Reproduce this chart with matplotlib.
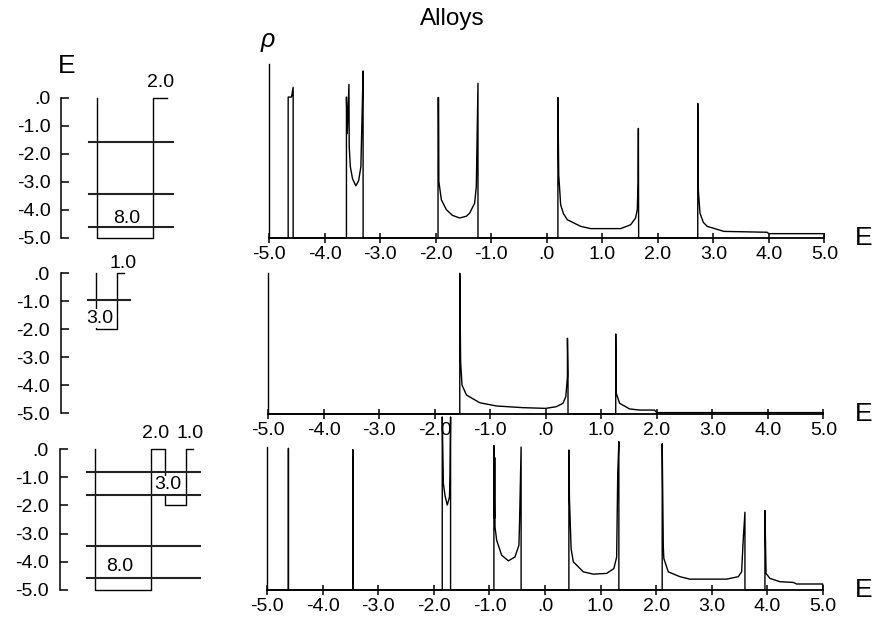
import matplotlib.pyplot as plt

plt.rcParams['font.family'] = ['Liberation Sans', 'DejaVu Sans']

# energy axis of the density-of-states panels
e_ticks = [-5, -4, -3, -2, -1, 0, 1, 2, 3, 4, 5]
e_tick_labels = ["-5.0", "-4.0", "-3.0", "-2.0", "-1.0", ".0",
                 "1.0", "2.0", "3.0", "4.0", "5.0"]
# energy axis of the potential panels
v_ticks = [0, -1, -2, -3, -4, -5]
v_tick_labels = [".0", "-1.0", "-2.0", "-3.0", "-4.0", "-5.0"]

# potential profiles (x in width units, V in energy units)
pot1_x = [0, 0, 8, 8, 10]
pot1_v = [0, -5, -5, 0, 0]
pot2_x = [0, 0, 3, 3, 4]
pot2_v = [0, -2, -2, 0, 0]
pot3_x = [0, 0, 8, 8, 10, 10, 13, 13, 14]
pot3_v = [0, -5, -5, 0, 0, -2, -2, 0, 0]

# bound levels
levels1 = [-1.56, -3.43, -4.60]
levels2 = [-0.97]
levels3 = [-0.82, -1.64, -3.44, -4.59]

# density of states rho(E)
dos1_e = [-5.0, -4.66, -4.66, -4.60, -4.57, -4.57,
          -3.61, -3.61, -3.595, -3.565, -3.56, -3.54, -3.50, -3.44, -3.39, -3.35, -3.33, -3.31, -3.31,
          -1.96, -1.96, -1.95, -1.945, -1.90, -1.81, -1.70, -1.57, -1.45, -1.39, -1.30, -1.27, -1.24, -1.24,
          0.20, 0.20, 0.215, 0.25, 0.30, 0.37, 0.61, 0.79, 1.33, 1.51, 1.60, 1.63, 1.645, 1.65, 1.655,
          2.72, 2.72, 2.73, 2.76, 2.82, 2.89, 3.19, 3.97, 4.0, 5.0, 5.0]
dos1_rho = [0, 0, 0.81, 0.81, 0.866, 0,
            0, 0.81, 0.60, 0.883, 0.526, 0.41, 0.34, 0.30, 0.33, 0.41, 0.68, 0.96, 0,
            0, 0.807, 0.807, 0.325, 0.22, 0.163, 0.13, 0.115, 0.125, 0.143, 0.20, 0.296, 0.889, 0,
            0, 0.807, 0.363, 0.19, 0.14, 0.105, 0.067, 0.054, 0.054, 0.076, 0.115, 0.163, 0.315, 0.63, 0,
            0, 0.774, 0.277, 0.143, 0.09, 0.067, 0.038, 0.033, 0.025, 0.025, 0]

dos2_e = [-5.0, -1.55, -1.55, -1.535, -1.51, -1.43, -1.19, -0.89, -0.41, 0.0, 0.19, 0.31, 0.36, 0.39, 0.39, 0.40, 0.40,
          1.26, 1.26, 1.27, 1.33, 1.51, 1.69, 1.96, 2.0, 5.0, 5.0]
dos2_rho = [0, 0, 1.0, 0.372, 0.206, 0.135, 0.08, 0.057, 0.045, 0.04, 0.052, 0.076, 0.123, 0.265, 0.538, 0.30, 0,
            0, 0.569, 0.147, 0.076, 0.036, 0.028, 0.028, 0.01, 0.01, 0]

dos3_e = [-5.0, -4.62, -4.62, -4.62, -3.46, -3.46, -3.46,
          -1.85, -1.85, -1.83, -1.80, -1.76, -1.72, -1.71, -1.70, -1.70,
          -0.92, -0.92, -0.91, -0.905, -0.90, -0.87, -0.78, -0.66, -0.54, -0.47, -0.46, -0.43, -0.43,
          0.43, 0.43, 0.44, 0.47, 0.51, 0.69, 0.87, 1.11, 1.24, 1.29, 1.31, 1.33, 1.33,
          2.11, 2.11, 2.13, 2.14, 2.22, 2.43, 2.61, 3.27, 3.48, 3.54, 3.57, 3.60, 3.60,
          3.96, 3.96, 3.98, 4.05, 4.23, 4.47, 4.53, 5.0, 5.0]
dos3_rho = [0, 0, 0.99, 0, 0, 0.98, 0,
            0, 1.21, 0.746, 0.66, 0.594, 0.65, 0.79, 1.21, 0,
            0, 1.01, 0.50, 0.926, 0.44, 0.347, 0.243, 0.204, 0.231, 0.3125, 0.44, 1.0, 0,
            0, 0.979, 0.64, 0.289, 0.197, 0.127, 0.111, 0.116, 0.15, 0.23, 0.82, 1.037, 0,
            0, 1.023, 0.30, 0.22, 0.127, 0.093, 0.076, 0.076, 0.093, 0.127, 0.359, 0.544, 0,
            0, 0.556, 0.116, 0.081, 0.058, 0.053, 0.042, 0.042, 0]

W, H = 874, 624
fig = plt.figure(figsize=(W / 100, H / 100), dpi=100)


def px_axes(x0, y_top, w, h):
    return fig.add_axes([x0 / W, (H - y_top - h) / H, w / W, h / H])


def pot_panel(ax, xs, vs, levels, lev_right):
    ax.plot(xs, vs, color='black', lw=1.0, zorder=2, clip_on=False)
    for lv in levels:
        ax.plot([-1.14, lev_right], [lv, lv], color='#222222', lw=1.5, zorder=4)
    ax.set_xlim(-5, 15.5)
    ax.set_ylim(-5, 0)
    for s in ['top', 'right', 'bottom']:
        ax.spines[s].set_visible(False)
    ax.spines['left'].set_linewidth(1.1)
    ax.set_xticks([])
    ax.set_yticks(v_ticks)
    ax.set_yticklabels(v_tick_labels)
    ax.tick_params(axis='y', direction='in', length=5.5, width=1.1, pad=8, labelsize=14)


def dos_panel(ax, es, rhos):
    ax.plot(es, rhos, color='black', lw=1.0, clip_on=False, zorder=3)
    ax.set_xlim(-5, 5)
    ax.set_ylim(0, 1)
    for s in ['top', 'right']:
        ax.spines[s].set_visible(False)
    ax.spines['left'].set_linewidth(1.0)
    ax.spines['bottom'].set_linewidth(1.3)
    ax.set_yticks([])
    ax.set_xticks(e_ticks)
    ax.set_xticklabels(e_tick_labels)
    ax.tick_params(axis='x', direction='inout', length=7, width=1.1, pad=2, labelsize=14)


box = dict(facecolor='white', edgecolor='none', pad=0.5)

# left column: potentials
axp1 = px_axes(61.5, 98, 143.5, 140)
pot_panel(axp1, pot1_x, pot1_v, levels1, 10.86)
axp1.text(9.1, 0.54, "2.0", ha='center', va='center', fontsize=14, clip_on=False)
axp1.text(4.3, -4.3, "8.0", ha='center', va='center', fontsize=14)

axp2 = px_axes(61, 273, 143.5, 140)
pot_panel(axp2, pot2_x, pot2_v, levels2, 4.86)
axp2.text(3.8, 0.34, "1.0", ha='center', va='center', fontsize=14, clip_on=False)
axp2.text(0.6, -1.62, "3.0", ha='center', va='center', fontsize=14, bbox=box, zorder=3)

axp3 = px_axes(59.5, 449, 143.5, 141)
pot_panel(axp3, pot3_x, pot3_v, levels3, 15.0)
axp3.text(8.7, 0.55, "2.0", ha='center', va='center', fontsize=14, clip_on=False)
axp3.text(13.7, 0.55, "1.0", ha='center', va='center', fontsize=14, clip_on=False)
axp3.text(10.4, -1.27, "3.0", ha='center', va='center', fontsize=14, bbox=box, zorder=3)
axp3.text(3.65, -4.17, "8.0", ha='center', va='center', fontsize=14)

# right column: density of states
axd1 = px_axes(269.3, 64, 555, 174)
dos_panel(axd1, dos1_e, dos1_rho)
axd2 = px_axes(268.3, 273.3, 555, 140.7)
dos_panel(axd2, dos2_e, dos2_rho)
axd3 = px_axes(267.3, 447, 555.4, 143)
dos_panel(axd3, dos3_e, dos3_rho)

fig.text(452 / W, 1 - 19 / H, "Alloys", ha='center', va='center', fontsize=17.5)
fig.text(268 / W, 1 - 40 / H, "ρ", ha='center', va='center', fontsize=18, style='italic')
fig.text(67 / W, 1 - 66 / H, "E", ha='center', va='center', fontsize=19)
for yb in [238, 414, 590]:
    fig.text(864 / W, 1 - yb / H, "E", ha='center', va='center', fontsize=19)

fig.savefig("out.png", dpi=100)
